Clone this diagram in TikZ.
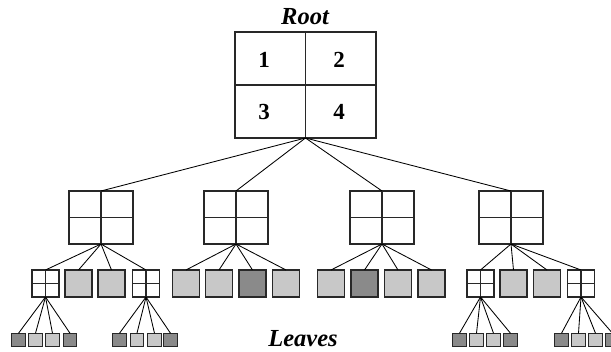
\documentclass[tikz,border=0pt]{standalone}
\usepackage{fontspec}
\setmainfont{Liberation Serif}
\definecolor{lightfill}{RGB}{200,200,200}
\definecolor{darkfill}{RGB}{138,138,138}
\definecolor{edgecol}{RGB}{40,40,40}
\begin{document}
\begin{tikzpicture}[x=1pt,y=-1pt,
  box/.style={draw=edgecol, line width=1.2pt, inner sep=0pt, outer sep=0pt},
  quad/.style={box, fill=white, path picture={\draw[line width=1.2pt, draw=edgecol]
     (path picture bounding box.north) -- (path picture bounding box.south)
     (path picture bounding box.west) -- (path picture bounding box.east);}},
  bigquad/.style={quad, minimum width=141pt, minimum height=106pt},
  midquad/.style={quad, minimum width=64pt, minimum height=53pt},
  smallquad/.style={quad, minimum size=27pt},
  lightbox/.style={box, fill=lightfill, minimum size=27pt},
  darkbox/.style={box, fill=darkfill, minimum size=27pt},
  tinylight/.style={box, fill=lightfill, minimum size=13.5pt},
  tinydark/.style={box, fill=darkfill, minimum size=13.5pt},
  conn/.style={draw=black, line width=0.85pt},
  title/.style={font=\fontsize{24.5}{26}\selectfont\bfseries\itshape, inner sep=0pt},
  num/.style={font=\fontsize{23}{26}\selectfont\bfseries, inner sep=0pt}
]
\useasboundingbox (0,0) rectangle (611,352);
\fill[white] (0,0) rectangle (611,352);

% Root
\node[title] (roottxt) at (305,17) {Root};
\node[bigquad] (root) at (305.5,85) {};
\node[num] (n1) at (264,60) {1};
\node[num] (n2) at (339,60) {2};
\node[num] (n3) at (264,112) {3};
\node[num] (n4) at (339,112) {4};

% Level 2
\foreach \x/\n in {101/m1, 236/m2, 382/m3, 511/m4}
  \node[midquad] (\n) at (\x,217.5) {};

% Level 3
\foreach \x/\s/\n in {45.5/smallquad/a1, 78.5/lightbox/a2, 111.5/lightbox/a3, 146/smallquad/a4,
                      186/lightbox/b1, 219/lightbox/b2, 252.5/darkbox/b3, 286/lightbox/b4,
                      331/lightbox/c1, 364.5/darkbox/c2, 398/lightbox/c3, 431.5/lightbox/c4,
                      480.5/smallquad/d1, 513.5/lightbox/d2, 547/lightbox/d3, 581/smallquad/d4}
  \node[\s] (\n) at (\x,283.5) {};

% Level 4
\foreach \x/\s/\n in {18.5/tinydark/p1, 35.5/tinylight/p2, 52.5/tinylight/p3, 70/tinydark/p4,
                      119.5/tinydark/q1, 137/tinylight/q2, 154.5/tinylight/q3, 170.5/tinydark/q4,
                      459.5/tinydark/r1, 476.5/tinylight/r2, 493.5/tinylight/r3, 510.5/tinydark/r4,
                      561.5/tinydark/s1, 578.5/tinylight/s2, 595.5/tinylight/s3, 612.5/tinydark/s4}
  \node[\s] (\n) at (\x,340) {};

\node[title] (leavestxt) at (303,339) {Leaves};

% Connectors
\foreach \n in {m1,m2,m3,m4} \draw[conn] (root.south) -- (\n.north);
\foreach \p/\g in {m1/a, m2/b, m3/c, m4/d}
  \foreach \i in {1,2,3,4} \draw[conn] (\p.south) -- (\g\i.north);
\foreach \p/\g in {a1/p, a4/q, d1/r, d4/s}
  \foreach \i in {1,2,3,4} \draw[conn] (\p.south) -- (\g\i.north);
\end{tikzpicture}
\end{document}
